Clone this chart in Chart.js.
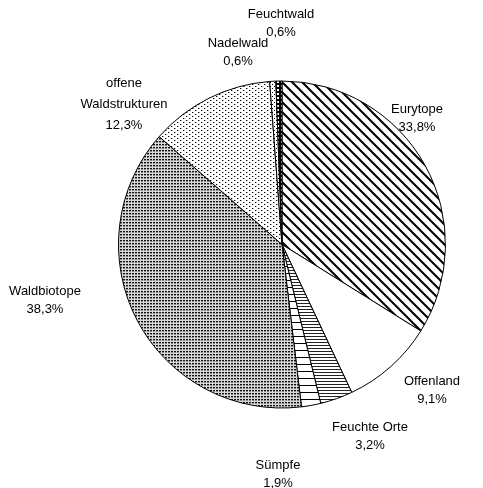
<!DOCTYPE html>
<html>
<head>
<meta charset="utf-8">
<script src="https://cdn.jsdelivr.net/npm/chart.js@4.4.0/dist/chart.umd.min.js"></script>
<style>
  html, body { margin: 0; padding: 0; background: #fff; }
  #wrap { width: 483px; height: 488px; }
</style>
</head>
<body>
<div id="wrap"><canvas id="pieChart" width="483" height="488"></canvas></div>
<script>
// chart data
const categories = ['Eurytope', 'Offenland', 'Feuchte Orte', 'Sümpfe', 'Waldbiotope', 'offene Waldstrukturen', 'Nadelwald', 'Feuchtwald'];
const shares = [33.8, 9.1, 3.2, 1.9, 38.3, 12.3, 0.6, 0.6];
const labelLines = [
    ['Eurytope'], ['Offenland'], ['Feuchte Orte'], ['Sümpfe'], ['Waldbiotope'],
    ['offene', 'Waldstrukturen'], ['Nadelwald'], ['Feuchtwald']
];

// label block centre, relative to pie centre
const labelOffsets = [
    [135, -126], [150, 146], [88, 192], [-4, 230], [-237, 56],
    [-158, -140], [-44, -192], [-1, -221]
];

function makePattern(w, h, draw) {
    const c = document.createElement('canvas');
    c.width = w;
    c.height = h;
    const g = c.getContext('2d');
    g.fillStyle = '#fff';
    g.fillRect(0, 0, w, h);
    draw(g);
    return g.createPattern(c, 'repeat');
}

const diag = makePattern(10, 10, function(g) {
    g.strokeStyle = '#000';
    g.lineWidth = 2;
    g.beginPath();
    g.moveTo(-2, -2); g.lineTo(12, 12);
    g.moveTo(-2, 8); g.lineTo(2, 12);
    g.moveTo(8, -2); g.lineTo(12, 2);
    g.stroke();
});
const hDense = makePattern(4, 3, function(g) {
    g.fillStyle = '#222';
    g.fillRect(0, 0, 4, 1);
});
const hSparse = makePattern(4, 7, function(g) {
    g.fillStyle = '#000';
    g.fillRect(0, 0, 4, 1);
});
const dotsDense = makePattern(3, 3, function(g) {
    g.fillStyle = '#d8d8d8';
    g.fillRect(0, 0, 3, 3);
    g.fillStyle = '#111';
    g.fillRect(0, 0, 2, 1);
    g.fillStyle = '#888';
    g.fillRect(0, 1, 2, 1);
});
const dotsLight = makePattern(6, 4, function(g) {
    g.fillStyle = '#000';
    g.fillRect(0, 0, 1, 1);
    g.fillRect(3, 2, 1, 1);
    g.fillStyle = '#aaa';
    g.fillRect(1, 0, 1, 1);
    g.fillRect(4, 2, 1, 1);
});
const dotsWide = makePattern(4, 4, function(g) {
    g.fillStyle = '#000';
    g.fillRect(0, 0, 1, 1);
    g.fillRect(2, 2, 1, 1);
});
const ladder = makePattern(4, 4, function(g) {
    g.fillStyle = '#000';
    g.fillRect(0, 0, 4, 4);
    g.fillStyle = '#fff';
    g.fillRect(1, 1, 2, 2);
});

const fills = [diag, '#ffffff', hDense, hSparse, dotsDense, dotsLight, dotsWide, ladder];

function fmt(v) {
    return v.toFixed(1).replace('.', ',') + '%';
}

const pieLabels = {
    id: 'pieLabels',
    afterDatasetsDraw(chart) {
        const ctx = chart.ctx;
        const meta = chart.getDatasetMeta(0);
        ctx.save();
        ctx.font = '13px "Liberation Sans", Arial, sans-serif';
        ctx.fillStyle = '#000';
        ctx.textAlign = 'center';
        ctx.textBaseline = 'middle';
        meta.data.forEach(function(arc, i) {
            const lines = labelLines[i].concat([fmt(shares[i])]);
            const lineH = lines.length > 2 ? 21 : 18;
            const cx = arc.x + labelOffsets[i][0];
            const cy = arc.y + labelOffsets[i][1];
            const top = cy - (lines.length - 1) * lineH / 2;
            lines.forEach(function(t, j) {
                ctx.fillText(t, cx, top + j * lineH);
            });
        });
        ctx.restore();
    }
};

document.addEventListener('DOMContentLoaded', function() {
    const ctx = document.getElementById('pieChart').getContext('2d');
    new Chart(ctx, {
        type: 'pie',
        data: {
            labels: categories,
            datasets: [{
                data: shares,
                backgroundColor: fills,
                borderColor: '#000',
                borderWidth: 1
            }]
        },
        options: {
            responsive: false,
            animation: false,
            layout: {
                padding: { left: 118, right: 37, top: 80, bottom: 79 }
            },
            plugins: {
                legend: { display: false },
                tooltip: { enabled: false }
            }
        },
        plugins: [pieLabels]
    });
});
</script>
</body>
</html>
